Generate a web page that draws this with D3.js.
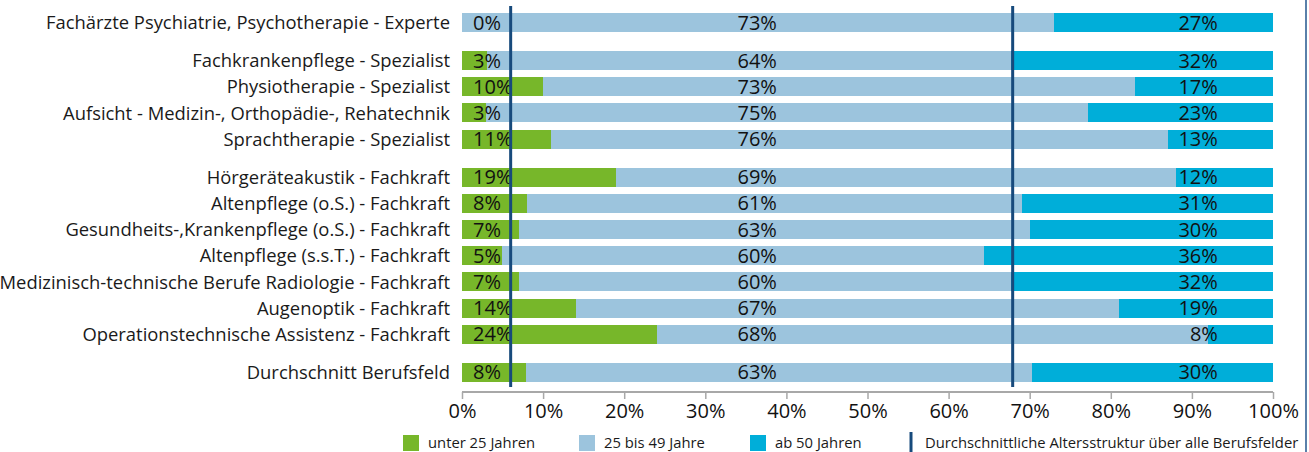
<!DOCTYPE html>
<html>
<head>
<meta charset="utf-8">
<script src="https://cdn.jsdelivr.net/npm/d3@7"></script>
<style>
  body { margin: 0; background: #fff; }
  svg { display: block; font-family: "Open Sans", sans-serif; }
</style>
</head>
<body>
<div id="chart"></div>
<script>
// Altersstruktur der Beschäftigten nach Beruf (Anteile in %)
const categories = [
  "Fachärzte Psychiatrie, Psychotherapie - Experte",
  "Fachkrankenpflege - Spezialist",
  "Physiotherapie - Spezialist",
  "Aufsicht - Medizin-, Orthopädie-, Rehatechnik",
  "Sprachtherapie - Spezialist",
  "Hörgeräteakustik - Fachkraft",
  "Altenpflege (o.S.) - Fachkraft",
  "Gesundheits-,Krankenpflege (o.S.) - Fachkraft",
  "Altenpflege (s.s.T.) - Fachkraft",
  "Medizinisch-technische Berufe Radiologie - Fachkraft",
  "Augenoptik - Fachkraft",
  "Operationstechnische Assistenz - Fachkraft",
  "Durchschnitt Berufsfeld"
];
const groups   = [0, 1, 1, 1, 1, 2, 2, 2, 2, 2, 2, 2, 3];
const under25  = [0, 3, 10, 3, 11, 19, 8, 7, 5, 7, 14, 24, 8];
const age25to49 = [73, 64, 73, 75, 76, 69, 61, 63, 60, 60, 67, 68, 63];
const over50   = [27, 32, 17, 23, 13, 12, 31, 30, 36, 32, 19, 8, 30];
const avgLines = [6.0, 67.9];
const xTicks = [0, 10, 20, 30, 40, 50, 60, 70, 80, 90, 100];
const seriesKeys = ["u25", "m", "o50"];
const seriesNames = ["unter 25 Jahren", "25 bis 49 Jahre", "ab 50 Jahren"];
const avgLegend = "Durchschnittliche Altersstruktur über alle Berufsfelder";

const width = 1309, height = 452;
const colors = { u25: "#77b72a", m: "#9cc4dd", o50: "#00aed9" };
const LINE_COLOR = "#174a7c";
const FONT = "\"Open Sans\", sans-serif";

const rows = categories.map((c, i) => ({
  name: c, group: groups[i], idx: i,
  u25: under25[i], m: age25to49[i], o50: over50[i]
}));

const svg = d3.select("#chart").append("svg")
  .attr("width", width).attr("height", height);

const x = d3.scaleLinear().domain([0, 100]).range([462, 1273]);

// row slot positions: extra gap between groups
const GAP = 0.45;
const slot = d => d.idx + GAP * d.group;
const y = d3.scaleLinear().domain([0, 1]).range([13, 39.2]);
const barH = 19;

// stacked, normalized per row
const stack = d3.stack().keys(seriesKeys).offset(d3.stackOffsetExpand);
const stacked = stack(rows);

svg.append("g").selectAll("g")
  .data(stacked)
  .join("g")
  .attr("fill", d => colors[d.key])
  .selectAll("rect")
  .data(d => d)
  .join("rect")
  .attr("x", d => x(d[0] * 100))
  .attr("width", d => x(d[1] * 100) - x(d[0] * 100))
  .attr("y", d => y(slot(d.data)))
  .attr("height", barH)
  .attr("shape-rendering", "crispEdges");

// category labels
svg.append("g").selectAll("text")
  .data(rows)
  .join("text")
  .attr("x", 450)
  .attr("y", d => y(slot(d)) + barH / 2)
  .attr("dy", "0.36em")
  .attr("text-anchor", "end")
  .style("font-size", "18.4px")
  .style("fill", "#1a1a1a")
  .text(d => d.name);

// value labels at fixed columns
const labelCols = [
  { key: "u25", at: 1.36, anchor: "start" },
  { key: "m",   at: 36.4, anchor: "middle" },
  { key: "o50", at: 93.2, anchor: "end" }
];
labelCols.forEach(col => {
  svg.append("g").selectAll("text")
    .data(rows)
    .join("text")
    .attr("x", x(col.at))
    .attr("y", d => y(slot(d)) + barH / 2)
    .attr("dy", "0.36em")
    .attr("text-anchor", col.anchor)
    .style("font-size", "20px")
    .style("fill", "#111")
    .text(d => d[col.key] + "%");
});

// average lines
svg.append("g").selectAll("line")
  .data(avgLines)
  .join("line")
  .attr("x1", d => x(d)).attr("x2", d => x(d))
  .attr("y1", 6).attr("y2", 387)
  .attr("stroke", LINE_COLOR)
  .attr("stroke-width", 3);

// x axis
const axisG = svg.append("g")
  .attr("transform", "translate(0,392)")
  .call(d3.axisBottom(x).tickValues(xTicks).tickSize(7).tickPadding(5)
    .tickFormat(d => d + "%"));
axisG.select(".domain").attr("stroke", "#a8a8a8").attr("stroke-width", 2)
  .attr("d", `M${x(0)},0H${x(100)}`);
axisG.selectAll(".tick line").attr("stroke", "#a8a8a8").attr("stroke-width", 1.5);
axisG.selectAll(".tick text")
  .style("font-size", "20px").style("font-family", FONT).attr("fill", "#111");

// legend
const legendItems = [
  { key: "u25", x: 403 },
  { key: "m",   x: 579 },
  { key: "o50", x: 750 }
];
const legG = svg.append("g");
legendItems.forEach((it, i) => {
  legG.append("rect")
    .attr("x", it.x).attr("y", 435)
    .attr("width", 16).attr("height", 16)
    .attr("fill", colors[it.key]);
  legG.append("text")
    .attr("x", it.x + 25).attr("y", 443)
    .attr("dy", "0.36em")
    .style("font-size", "14.8px").style("fill", "#1a1a1a")
    .text(seriesNames[i]);
});
legG.append("line")
  .attr("x1", 911).attr("x2", 911)
  .attr("y1", 432).attr("y2", 452)
  .attr("stroke", LINE_COLOR).attr("stroke-width", 3);
legG.append("text")
  .attr("x", 925).attr("y", 443)
  .attr("dy", "0.36em")
  .style("font-size", "14.8px").style("fill", "#1a1a1a")
  .text(avgLegend);

// frame line on the right
svg.append("line")
  .attr("x1", 1306).attr("x2", 1306)
  .attr("y1", 0).attr("y2", height)
  .attr("stroke", "#5a80aa").attr("stroke-width", 2);
</script>
</body>
</html>
